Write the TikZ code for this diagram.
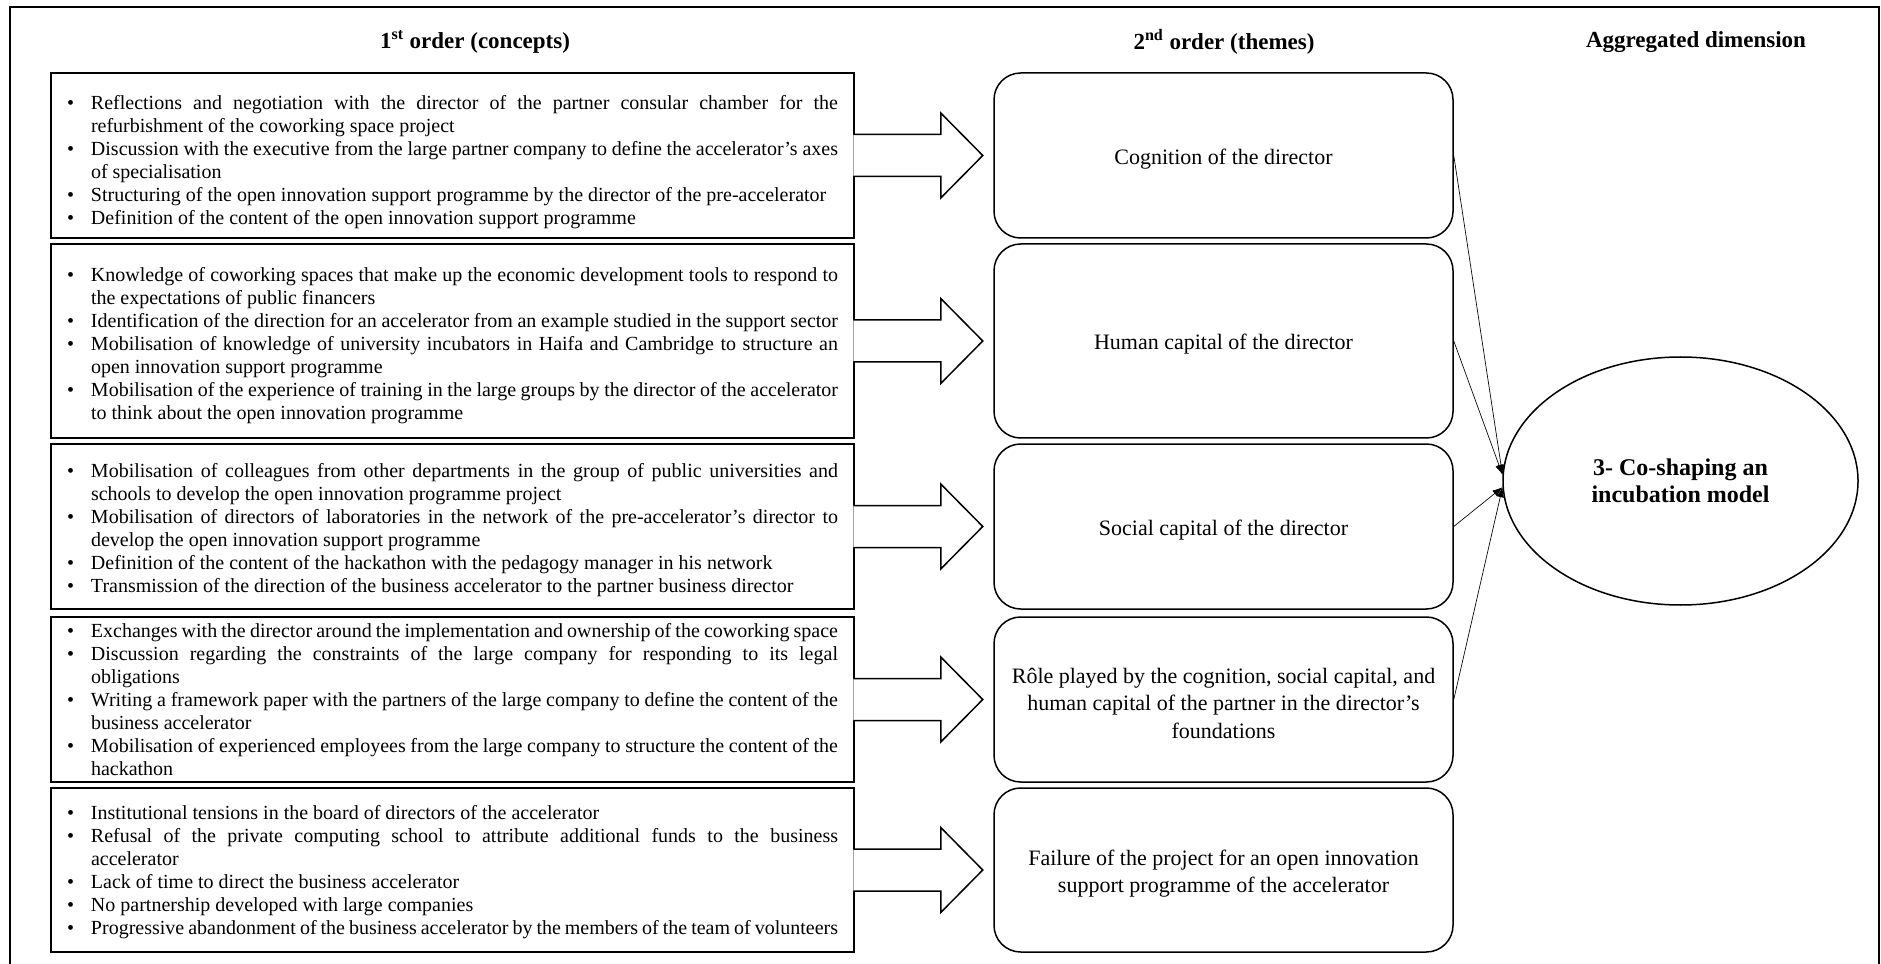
\documentclass[tikz,border=0pt]{standalone}
\usepackage{fontspec}
\setmainfont{Liberation Serif}
\usetikzlibrary{shapes, positioning, arrows.meta}
\hyphenpenalty=10000
\exhyphenpenalty=10000
\tolerance=9999
\newcommand\bpt[1]{\noindent\hangindent=14.4pt\hangafter=1\makebox[14.4pt][l]{\textbullet}#1\par}
\newcommand\blockarrow[1]{\filldraw[blockar] (#1.east) ++(-1.5,-21) -- ++(87.5,0) -- ++(0,-21.5) -- ++(42,42.5) -- ++(-42,42.5) -- ++(0,-21.5) -- ++(-87.5,0);}
\begin{document}
\begin{tikzpicture}[x=0.6pt, y=-0.6pt,
              concept/.style = {draw, line width=0.9pt, inner xsep=9.6pt, inner ysep=0pt,
                text width=462.6pt, align=justify, font=\fontsize{12}{13.8}\selectfont,
                execute at begin node={\rule{0pt}{#1}}},
              concept/.default = 14pt,
              theme/.style = {draw, line width=0.9pt, rounded corners=16pt,
                minimum width=275.4pt, text width=262pt, align=flush center,
                font=\fontsize{13.2}{16.5}\selectfont, execute at begin node={\rule{0pt}{13.4pt}}},
              colhead/.style = {font=\bfseries\fontsize{13.8}{16}\selectfont},
              dimension/.style = {draw, ellipse, line width=0.9pt, minimum width=213pt,
                minimum height=148.8pt, align=center, font=\bfseries\fontsize{14.4}{16.5}\selectfont},
              link/.style = {line width=0.4pt, -{Latex[length=6pt,width=4.5pt]}},
              blockar/.style = {line width=0.9pt, fill=white}]
  \useasboundingbox (0,0) rectangle (1881,964);
  \draw[line width=1.2pt] (10,964) |- (1879,7) -- (1879,964);

  \node[colhead] (h1) at (475,42) {1\textsuperscript{st} order (concepts)};
  \node[colhead] (h2) at (1224,42) {2\textsuperscript{nd} order (themes)};
  \node[colhead] (h3) at (1696,42) {Aggregated dimension};

  \node[concept=16pt, minimum height=99pt] (c1) at (452.5,155.5) {%
    \bpt{Reflections and negotiation with the director of the partner consular chamber for the\linebreak refurbishment of the coworking space project}
    \bpt{Discussion with the executive from the large partner company to define the accelerator’s axes\linebreak of specialisation}
    \bpt{Structuring of the open innovation support programme by the director of the pre-accelerator}
    \bpt{Definition of the content of the open innovation support programme}};
  \node[concept, minimum height=116.4pt] (c2) at (452.5,341) {%
    \bpt{Knowledge of coworking spaces that make up the economic development tools to respond to\linebreak the expectations of public financers}
    \bpt{Identification of the direction for an accelerator from an example studied in the support sector}
    \bpt{Mobilisation of knowledge of university incubators in Haifa and Cambridge to structure an\linebreak open innovation support programme}
    \bpt{Mobilisation of the experience of training in the large groups by the director of the accelerator\linebreak to think about the open innovation programme}};
  \node[concept=12.6pt, minimum height=99pt] (c3) at (452.5,526.5) {%
    \bpt{Mobilisation of colleagues from other departments in the group of public universities and\linebreak schools to develop the open innovation programme project}
    \bpt{Mobilisation of directors of laboratories in the network of the pre-accelerator’s director to\linebreak develop the open innovation support programme}
    \bpt{Definition of the content of the hackathon with the pedagogy manager in his network}
    \bpt{Transmission of the direction of the business accelerator to the partner business director}};
  \node[concept=0pt, minimum height=99pt] (c4) at (452.5,699.5) {%
    \bpt{Exchanges with the director around the implementation and ownership of the coworking space}
    \bpt{Discussion regarding the constraints of the large company for responding to its legal\linebreak obligations}
    \bpt{Writing a framework paper with the partners of the large company to define the content of the\linebreak business accelerator}
    \bpt{Mobilisation of experienced employees from the large company to structure the content of the\linebreak hackathon}};
  \node[concept=11.2pt, minimum height=98.4pt] (c5) at (452.5,870) {%
    \bpt{Institutional tensions in the board of directors of the accelerator}
    \bpt{Refusal of the private computing school to attribute additional funds to the business\linebreak accelerator}
    \bpt{Lack of time to direct the business accelerator}
    \bpt{No partnership developed with large companies}
    \bpt{Progressive abandonment of the business accelerator by the members of the team of volunteers}};

  \node[theme, minimum height=99pt] (t1) at (1223.5,155.5) {Cognition of the director};
  \node[theme, minimum height=116.4pt] (t2) at (1223.5,341) {Human capital of the director};
  \node[theme, minimum height=99pt] (t3) at (1223.5,526.5) {Social capital of the director};
  \node[theme, minimum height=99pt] (t4) at (1223.5,699.5) {Rôle played by the cognition, social capital, and\\human capital of the partner in the director’s\\foundations};
  \node[theme, minimum height=98.4pt] (t5) at (1223.5,870) {Failure of the project for an open innovation\\support programme of the accelerator};

  \node[dimension] (agg) at (1680.5,481) {3- Co-shaping an\\incubation model};

  \foreach \i in {1,...,5} {\blockarrow{c\i}}
  \foreach \i/\a in {1/178, 2/178, 3/182, 4/182}
    \draw[link] (t\i.east) -- (agg.\a);
\end{tikzpicture}
\end{document}
